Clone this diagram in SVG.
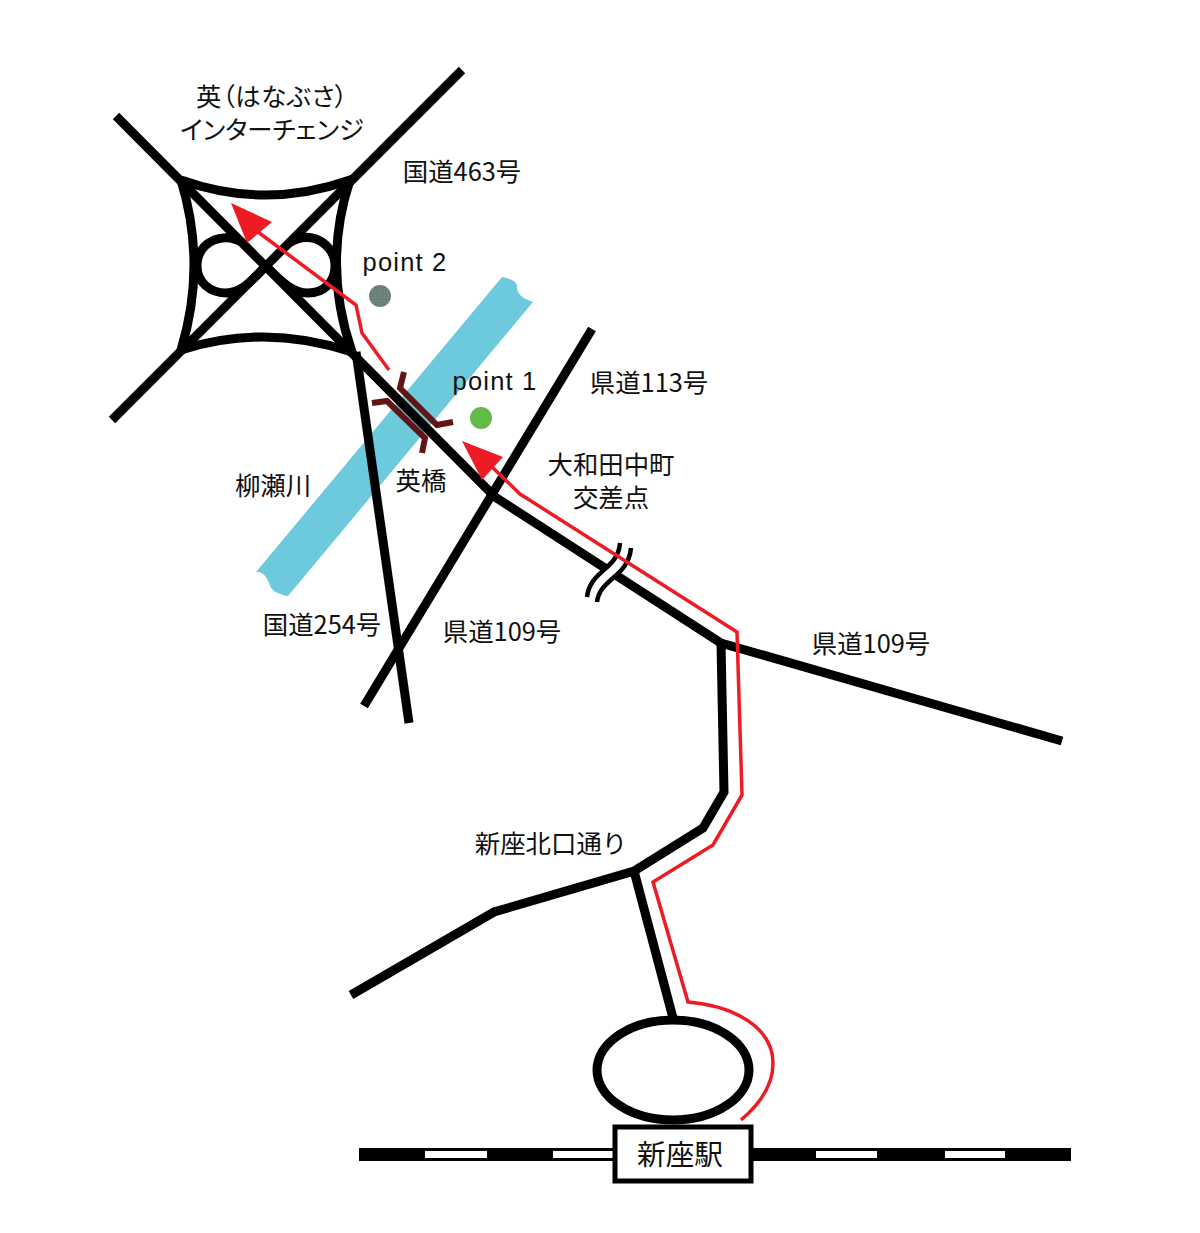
<svg xmlns="http://www.w3.org/2000/svg" width="1200" height="1233" viewBox="0 0 1200 1233">
<defs><style>
.t{font-family:"Noto Sans CJK JP","Liberation Sans",sans-serif;font-size:25.4px;fill:#111;text-anchor:middle}
.k{font-feature-settings:"palt"}
.p{font-family:"Liberation Sans",sans-serif;font-size:25.5px;fill:#111;text-anchor:middle;letter-spacing:1.2px}
.r{fill:none;stroke:#000;stroke-width:9}
.ic{fill:none;stroke:#000;stroke-width:9}
.red{fill:none;stroke:#ed1c24;stroke-width:3.5}
.br{fill:none;stroke:#611516;stroke-width:6}
</style>
<pattern id="mesh" width="3" height="3" patternUnits="userSpaceOnUse"><rect width="3" height="3" fill="#6f7a80"/><rect width="1.5" height="1.5" fill="#5f9a6a"/></pattern>
</defs>
<rect width="1200" height="1233" fill="#fff"/>
<g id="river"><path d="M502 277 C512 279 518 282 517 288 C518 297 526 299 533 302 L288 596 C276 594 271 590 269 583 C266 575 262 572 256 572 Z" fill="#6ccadc"/></g>
<g id="bridge">
<path class="br" d="M404 372 L400 388 L437 425 L453 422"/>
<path class="br" d="M372 403 L387 401 L425 438 L422 453"/>
</g>
<g id="connectors">
<path class="r" d="M116 116 L495 497 L721 643 L1062 741"/>
<path class="r" d="M462 70 L112 420"/>
<path class="r" d="M356 352 L409 723"/>
<path class="r" d="M592 329 L364 706"/>
<path class="r" d="M721 643 L724 792 L703 828 L634 871 L494 912 L351 995"/>
<path class="r" d="M634 871 L673 1018"/>
</g>
<g id="interchange">
<path class="ic" d="M181 180 Q265 210 350 180 Q322 265 352 352 Q265 323 181 350 Q207 265 181 180"/>
<path class="ic" d="M243 243 C232 236 222 237 214 240 C203 245 197 254 197 266 C197 282 210 293 226 293 C242 293 252 280 266 266 C280 280 292 293 308 293 C324 293 335 282 335 266 C335 252 326 243 316 239 C307 236 298 237 289 243"/>
</g>
<g id="break">
<path d="M620 543 C618 570 590 570 587 597 L597 602 C600 578 628 578 631 548 Z" fill="#fff"/>
<path d="M620 543 C618 570 590 570 587 597 M631 548 C628 578 600 578 597 602" fill="none" stroke="#000" stroke-width="4.5"/>
</g>
<g id="route">
<path class="red" d="M258 232 L356 305 L362 333 L389 370"/>
<path d="M231 203 L272 222 L247 243 Z" fill="#ed1c24"/>
<path class="red" d="M490 465 L520 494 L737 632 L742 795 L713 845 L653 882 L688 1002 C735 1006 773 1028 773 1063 C773 1085 760 1104 741 1120"/>
<path d="M462 441 L503 457 L482 480 Z" fill="#ed1c24"/>
</g>
<g id="station-circle"><ellipse cx="673" cy="1070" rx="76" ry="50" fill="#fff" stroke="#000" stroke-width="9"/></g>
<g id="railway">
<rect x="359" y="1148" width="712" height="13" fill="#000"/>
<rect x="425" y="1151" width="62" height="7" fill="#fff"/>
<rect x="553" y="1151" width="62" height="7" fill="#fff"/>
<rect x="816" y="1151" width="61" height="7" fill="#fff"/>
<rect x="945" y="1151" width="60" height="7" fill="#fff"/>
</g>
<g id="station"><rect x="615" y="1127" width="136" height="54" fill="#fff" stroke="#000" stroke-width="5"/>
<text class="t" x="680" y="1165" style="font-size:28.7px">新座駅</text></g>
<g id="point-1"><circle cx="481" cy="418" r="11" fill="#62bb46"/><text class="p" x="495" y="390">point 1</text></g>
<g id="point-2"><circle cx="380" cy="296" r="11" fill="url(#mesh)"/><text class="p" x="405" y="271">point 2</text></g>
<g id="labels">
<text class="t k" x="272" y="106" style="letter-spacing:.6px">英（はなぶさ）</text>
<text class="t k" x="272" y="139">インターチェンジ</text>
<text class="t" x="462" y="181">国道463号</text>
<text class="t" x="649" y="392">県道113号</text>
<text class="t" x="611" y="474">大和田中町</text>
<text class="t" x="611" y="507">交差点</text>
<text class="t" x="273" y="495">柳瀬川</text>
<text class="t" x="421" y="490">英橋</text>
<text class="t" x="322" y="634">国道254号</text>
<text class="t" x="502" y="641">県道109号</text>
<text class="t" x="871" y="653">県道109号</text>
<text class="t" x="551" y="853">新座北口通り</text>
</g>
</svg>
